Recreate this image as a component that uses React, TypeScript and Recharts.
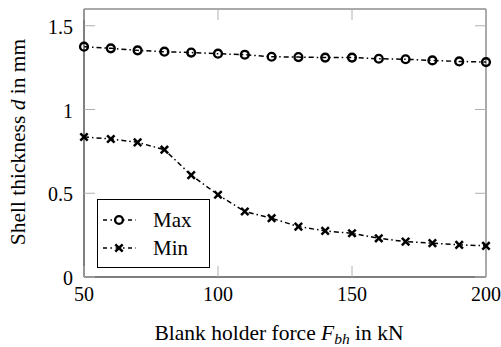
import React from 'react';
import { LineChart, Line, XAxis, YAxis, ReferenceArea } from 'recharts';

const forces = [50, 60, 70, 80, 90, 100, 110, 120, 130, 140, 150, 160, 170, 180, 190, 200];
const maxThickness = [1.375, 1.365, 1.353, 1.345, 1.34, 1.333, 1.327, 1.315, 1.313, 1.31, 1.31, 1.303, 1.3, 1.293, 1.287, 1.283];
const minThickness = [0.836, 0.824, 0.804, 0.76, 0.608, 0.491, 0.391, 0.351, 0.301, 0.275, 0.261, 0.231, 0.211, 0.202, 0.192, 0.186];
const xTicks = [50, 100, 150, 200];
const yTicks = [0, 0.5, 1, 1.5];
const yTickLabels = ['0', '0.5', '1', '1.5'];
const seriesNames = ['Max', 'Min'];

const data = forces.map((f, i) => ({ f, max: maxThickness[i], min: minThickness[i] }));

const FONT = '"Liberation Serif", "DejaVu Serif", serif';
const FS_TICK = 20;
const FS_LABEL = 21.5;
const FS_LEGEND = 21;
const TICK_LEN = 11;
const TICK_COLOR = '#b0b0b0';
const FRAME = '#555555';
const DASH = '5 3 1.5 3';
const MARK_R = 3.9;
const MARK_W = 2.4;
const CROSS_S = 3.7;

const BottomTick = (props: any) => {
  const { x, y, payload } = props;
  return (
    <g>
      <line x1={x} y1={y} x2={x} y2={y - TICK_LEN} stroke={TICK_COLOR} strokeWidth={1} />
      <text x={x} y={y + 24} textAnchor="middle" fontFamily={FONT} fontSize={FS_TICK} fill="#000">
        {payload.value}
      </text>
    </g>
  );
};

const TopTick = (props: any) => {
  const { x, y } = props;
  return <line x1={x} y1={y} x2={x} y2={y + TICK_LEN} stroke={TICK_COLOR} strokeWidth={1} />;
};

const LeftTick = (props: any) => {
  const { x, y, payload } = props;
  const idx = yTicks.indexOf(payload.value);
  return (
    <g>
      <line x1={x} y1={y} x2={x + TICK_LEN} y2={y} stroke={TICK_COLOR} strokeWidth={1} />
      <text x={x - 11} y={y + 8} textAnchor="end" fontFamily={FONT} fontSize={FS_TICK} fill="#000">
        {idx >= 0 ? yTickLabels[idx] : payload.value}
      </text>
    </g>
  );
};

const RightTick = (props: any) => {
  const { x, y } = props;
  return <line x1={x} y1={y} x2={x - TICK_LEN} y2={y} stroke={TICK_COLOR} strokeWidth={1} />;
};

const CircleDot = (props: any) => {
  const { cx, cy, index } = props;
  return <circle key={`c${index}`} cx={cx} cy={cy} r={MARK_R} fill="none" stroke="#000" strokeWidth={MARK_W} />;
};

const Cross = ({ cx, cy }: { cx: number; cy: number }) => (
  <g>
    <line x1={cx - CROSS_S} y1={cy - CROSS_S} x2={cx + CROSS_S} y2={cy + CROSS_S} stroke="#000" strokeWidth={2.5} />
    <line x1={cx - CROSS_S} y1={cy + CROSS_S} x2={cx + CROSS_S} y2={cy - CROSS_S} stroke="#000" strokeWidth={2.5} />
  </g>
);

const CrossDot = (props: any) => {
  const { cx, cy, index } = props;
  return <Cross key={`x${index}`} cx={cx} cy={cy} />;
};

const LegendBox = () => (
  <div
    style={{
      position: 'absolute',
      left: 97,
      top: 199,
      border: '1px solid #000',
      background: '#fff',
      width: 113,
      height: 69,
      boxSizing: 'border-box',
      fontFamily: FONT,
      fontSize: FS_LEGEND,
    }}
  >
    {seriesNames.map((name, i) => (
      <div key={name} style={{ position: 'absolute', left: 0, top: 6 + i * 28, height: 28, display: 'flex', alignItems: 'center' }}>
        <svg width={50} height={20} style={{ display: 'block' }}>
          <line x1={5} y1={10} x2={38} y2={10} stroke="#000" strokeWidth={1.6} strokeDasharray="4 3.5 1.5 3.5" />
          {i === 0 ? (
            <circle cx={21} cy={10} r={MARK_R} fill="#fff" stroke="#000" strokeWidth={MARK_W} />
          ) : (
            <Cross cx={21} cy={10} />
          )}
        </svg>
        <span style={{ marginLeft: 5, lineHeight: '20px' }}>{name}</span>
      </div>
    ))}
  </div>
);

export default function App() {
  return (
    <div style={{ position: 'absolute', left: 0, top: 0, width: 501, height: 347, background: '#fff' }}>
      <LineChart width={501} height={347} data={data} margin={{ top: 8, right: 14, left: 0, bottom: 0 }}>
        <XAxis
          dataKey="f"
          type="number"
          domain={[50, 200]}
          ticks={xTicks}
          height={70}
          tickSize={0}
          tickMargin={0}
          tickLine={false}
          tick={<BottomTick />}
          axisLine={{ stroke: FRAME, strokeWidth: 1 }}
          interval={0}
          label={{
            value: 'Blank holder force',
            position: 'insideBottom',
            content: (p: any) => {
              const vb = p.viewBox || {};
              const cx = vb.x + vb.width / 2;
              return (
                <text x={cx - 6} y={340} textAnchor="middle" fontFamily={FONT} fontSize={FS_LABEL} fill="#000">
                  Blank holder force <tspan fontStyle="italic">F</tspan>
                  <tspan fontStyle="italic" fontSize={15.5} dy={4}>bh</tspan>
                  <tspan dy={-4}> in kN</tspan>
                </text>
              );
            },
          }}
        />
        <XAxis
          xAxisId="top"
          dataKey="f"
          type="number"
          orientation="top"
          domain={[50, 200]}
          ticks={xTicks}
          height={1}
          tickSize={0}
          tickMargin={0}
          tickLine={false}
          tick={<TopTick />}
          axisLine={false}
          interval={0}
        />
        <YAxis
          type="number"
          domain={[0, 1.6]}
          ticks={yTicks}
          width={84}
          tickSize={0}
          tickMargin={0}
          tickLine={false}
          tick={<LeftTick />}
          axisLine={{ stroke: FRAME, strokeWidth: 1 }}
          interval={0}
          label={{
            value: 'Shell thickness',
            content: (p: any) => {
              const vb = p.viewBox || {};
              const cy = vb.y + vb.height / 2 - 1;
              return (
                <text
                  x={25}
                  y={cy}
                  transform={`rotate(-90 25 ${cy})`}
                  textAnchor="middle"
                  fontFamily={FONT}
                  fontSize={FS_LABEL}
                  fill="#000"
                >
                  Shell thickness <tspan fontStyle="italic">d</tspan> in mm
                </text>
              );
            },
          }}
        />
        <YAxis
          yAxisId="right"
          type="number"
          orientation="right"
          domain={[0, 1.6]}
          ticks={yTicks}
          width={1}
          tickSize={0}
          tickMargin={0}
          tickLine={false}
          tick={<RightTick />}
          axisLine={false}
          interval={0}
        />
        <ReferenceArea x1={50} x2={200} y1={0} y2={1.6} fill="none" stroke={FRAME} strokeWidth={1} ifOverflow="visible" />
        <Line
          xAxisId="top"
          yAxisId="right"
          type="linear"
          dataKey="max"
          stroke="none"
          dot={false}
          activeDot={false}
          legendType="none"
          isAnimationActive={false}
        />
        <Line
          type="linear"
          dataKey="max"
          name="Max"
          stroke="#000"
          strokeWidth={1.5}
          strokeDasharray={DASH}
          dot={CircleDot}
          activeDot={false}
          isAnimationActive={false}
        />
        <Line
          type="linear"
          dataKey="min"
          name="Min"
          stroke="#000"
          strokeWidth={1.5}
          strokeDasharray={DASH}
          dot={CrossDot}
          activeDot={false}
          isAnimationActive={false}
        />
      </LineChart>
      <LegendBox />
    </div>
  );
}
